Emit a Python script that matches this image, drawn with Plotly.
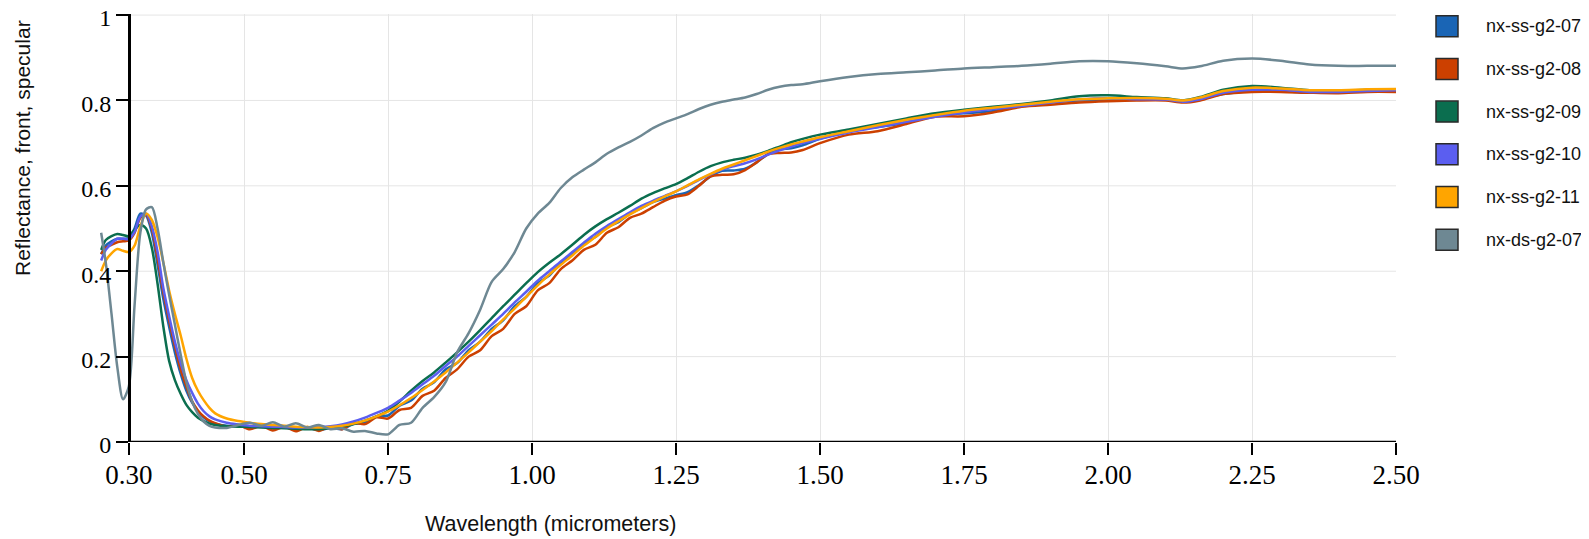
import plotly.graph_objects as go

WAVELENGTH = [0.252, 0.26, 0.27, 0.28, 0.29, 0.30, 0.31, 0.32, 0.33, 0.34, 0.35, 0.36, 0.37, 0.38, 0.39, 0.40,
              0.41, 0.42, 0.43, 0.44, 0.45, 0.47, 0.49, 0.51, 0.53, 0.55, 0.57, 0.59, 0.61, 0.63, 0.65, 0.67,
              0.69, 0.71, 0.73, 0.75, 0.77, 0.79, 0.81, 0.83, 0.85, 0.87, 0.89, 0.91, 0.93, 0.95, 0.97, 0.99,
              1.01, 1.03, 1.05, 1.07, 1.09, 1.11, 1.13, 1.15, 1.17, 1.19, 1.21, 1.23, 1.25, 1.27, 1.29, 1.31,
              1.33, 1.35, 1.37, 1.39, 1.41, 1.43, 1.45, 1.47, 1.50, 1.55, 1.60, 1.65, 1.70, 1.75, 1.80, 1.85,
              1.90, 1.95, 2.00, 2.05, 2.10, 2.13, 2.16, 2.20, 2.25, 2.30, 2.35, 2.40, 2.45, 2.50]

NX_SS_G2_07 = [0.44, 0.46, 0.47, 0.476, 0.476, 0.478, 0.50, 0.535, 0.53, 0.49, 0.415, 0.335, 0.27, 0.21, 0.16, 0.12,
               0.092, 0.072, 0.058, 0.048, 0.043, 0.038, 0.037, 0.034, 0.038, 0.032, 0.035, 0.029, 0.033, 0.028, 0.033, 0.03,
               0.042, 0.045, 0.06, 0.062, 0.085, 0.097, 0.125, 0.14, 0.17, 0.185, 0.215, 0.235, 0.265, 0.285, 0.318, 0.34,
               0.372, 0.39, 0.42, 0.44, 0.465, 0.48, 0.503, 0.515, 0.535, 0.548, 0.562, 0.57, 0.578, 0.585, 0.602, 0.622,
               0.635, 0.636, 0.64, 0.655, 0.675, 0.685, 0.688, 0.695, 0.71, 0.728, 0.738, 0.748, 0.765, 0.77, 0.775, 0.787,
               0.795, 0.80, 0.80, 0.803, 0.803, 0.797, 0.803, 0.815, 0.822, 0.822, 0.818, 0.819, 0.821, 0.822]

NX_SS_G2_08 = [0.44, 0.455, 0.462, 0.468, 0.47, 0.472, 0.49, 0.525, 0.532, 0.50, 0.43, 0.35, 0.285, 0.225, 0.17, 0.13,
               0.095, 0.074, 0.06, 0.05, 0.044, 0.036, 0.04, 0.03, 0.038, 0.027, 0.036, 0.025, 0.035, 0.026, 0.036, 0.03,
               0.045, 0.042, 0.058, 0.055, 0.075, 0.08, 0.108, 0.12, 0.15, 0.17, 0.20, 0.215, 0.248, 0.265, 0.30, 0.318,
               0.355, 0.372, 0.405, 0.425, 0.45, 0.462, 0.49, 0.503, 0.525, 0.535, 0.55, 0.565, 0.575, 0.58, 0.60, 0.622,
               0.626, 0.627, 0.637, 0.655, 0.674, 0.677, 0.678, 0.684, 0.70, 0.72, 0.728, 0.745, 0.762, 0.763, 0.772, 0.785,
               0.79, 0.795, 0.798, 0.80, 0.80, 0.795, 0.80, 0.815, 0.82, 0.82, 0.818, 0.817, 0.82, 0.82]

NX_SS_G2_09 = [0.45, 0.473, 0.482, 0.487, 0.485, 0.482, 0.497, 0.508, 0.50, 0.455, 0.37, 0.27, 0.19, 0.145, 0.113, 0.087,
               0.07, 0.057, 0.049, 0.043, 0.04, 0.037, 0.036, 0.035, 0.034, 0.033, 0.032, 0.031, 0.03, 0.03, 0.032, 0.036,
               0.042, 0.05, 0.06, 0.073, 0.095, 0.12, 0.143, 0.163, 0.186, 0.21, 0.235, 0.262, 0.29, 0.318, 0.345, 0.372,
               0.398, 0.42, 0.44, 0.462, 0.485, 0.505, 0.522, 0.537, 0.553, 0.57, 0.583, 0.594, 0.604, 0.618, 0.633, 0.646,
               0.655, 0.661, 0.666, 0.673, 0.682, 0.692, 0.702, 0.71, 0.72, 0.732, 0.745, 0.758, 0.77, 0.778, 0.785, 0.792,
               0.80, 0.81, 0.812, 0.808, 0.805, 0.80, 0.808, 0.825, 0.834, 0.83, 0.824, 0.823, 0.825, 0.826]

NX_SS_G2_10 = [0.425, 0.45, 0.465, 0.476, 0.476, 0.475, 0.492, 0.528, 0.535, 0.505, 0.445, 0.36, 0.295, 0.235, 0.185, 0.145,
               0.115, 0.09, 0.072, 0.06, 0.053, 0.045, 0.041, 0.038, 0.037, 0.036, 0.035, 0.034, 0.034, 0.035, 0.037, 0.041,
               0.048, 0.057, 0.068, 0.08, 0.097, 0.115, 0.135, 0.155, 0.178, 0.20, 0.225, 0.25, 0.275, 0.30, 0.327, 0.352,
               0.378, 0.40, 0.423, 0.445, 0.467, 0.488, 0.506, 0.522, 0.538, 0.553, 0.565, 0.576, 0.587, 0.60, 0.614, 0.627,
               0.638, 0.646, 0.653, 0.662, 0.673, 0.683, 0.692, 0.70, 0.71, 0.725, 0.737, 0.75, 0.762, 0.772, 0.78, 0.787,
               0.795, 0.802, 0.805, 0.803, 0.802, 0.797, 0.803, 0.818, 0.825, 0.825, 0.82, 0.82, 0.822, 0.824]

NX_SS_G2_11 = [0.40, 0.425, 0.442, 0.452, 0.448, 0.445, 0.46, 0.505, 0.535, 0.52, 0.48, 0.42, 0.355, 0.30, 0.25, 0.195,
               0.15, 0.12, 0.098, 0.08, 0.067, 0.055, 0.049, 0.045, 0.042, 0.04, 0.038, 0.036, 0.035, 0.034, 0.035, 0.038,
               0.043, 0.05, 0.06, 0.071, 0.086, 0.103, 0.122, 0.142, 0.163, 0.186, 0.21, 0.235, 0.26, 0.287, 0.313, 0.34,
               0.367, 0.392, 0.415, 0.437, 0.46, 0.48, 0.50, 0.517, 0.533, 0.548, 0.562, 0.575, 0.587, 0.601, 0.615, 0.628,
               0.64, 0.65, 0.66, 0.67, 0.68, 0.689, 0.697, 0.704, 0.714, 0.728, 0.742, 0.755, 0.766, 0.776, 0.783, 0.79,
               0.797, 0.803, 0.805, 0.806, 0.804, 0.80, 0.807, 0.822, 0.83, 0.828, 0.824, 0.824, 0.826, 0.827]

NX_DS_G2_07 = [0.49, 0.42, 0.30, 0.176, 0.10, 0.13, 0.32, 0.49, 0.545, 0.55, 0.50, 0.42, 0.345, 0.275, 0.205, 0.14,
               0.095, 0.066, 0.048, 0.038, 0.034, 0.033, 0.04, 0.045, 0.038, 0.046, 0.036, 0.044, 0.034, 0.04, 0.03, 0.032,
               0.024, 0.026, 0.02, 0.018, 0.04, 0.045, 0.08, 0.105, 0.14, 0.21, 0.255, 0.31, 0.375, 0.405, 0.445, 0.50,
               0.535, 0.56, 0.595, 0.62, 0.638, 0.655, 0.675, 0.69, 0.703, 0.718, 0.735, 0.748, 0.758, 0.768, 0.78, 0.79,
               0.797, 0.802, 0.807, 0.815, 0.825, 0.832, 0.836, 0.838, 0.845, 0.855, 0.862, 0.866, 0.87, 0.875, 0.878, 0.881,
               0.886, 0.892, 0.892, 0.887, 0.88, 0.875, 0.88, 0.893, 0.898, 0.893, 0.884, 0.881, 0.881, 0.881]

SERIES_NAMES = ["nx-ss-g2-07", "nx-ss-g2-08", "nx-ss-g2-09", "nx-ss-g2-10", "nx-ss-g2-11", "nx-ds-g2-07"]
SERIES_VALUES = [NX_SS_G2_07, NX_SS_G2_08, NX_SS_G2_09, NX_SS_G2_10, NX_SS_G2_11, NX_DS_G2_07]
SERIES_COLORS = ["#1a65b5", "#cc4000", "#0b6e4f", "#5b5ef0", "#ffa500", "#6e8893"]

X_TICKS = [0.30, 0.50, 0.75, 1.00, 1.25, 1.50, 1.75, 2.00, 2.25, 2.50]
X_TICK_TEXT = ["0.30", "0.50", "0.75", "1.00", "1.25", "1.50", "1.75", "2.00", "2.25", "2.50"]
Y_TICKS = [0, 0.2, 0.4, 0.6, 0.8, 1.0]
Y_TICK_TEXT = ["0", "0.2", "0.4", "0.6", "0.8", "1"]

X_MIN, X_MAX = 0.25, 2.5
Y_MIN, Y_MAX = 0.0, 1.0025
AXIS_X = 0.3

# The page body keeps the browser's default 8px margin, so the figure is
# sized and laid out in screen pixels minus that offset.
PAGE_OFFSET = 8
W, H = 1589 - PAGE_OFFSET, 539 - PAGE_OFFSET
ML, MT = 100 - PAGE_OFFSET, 14 - PAGE_OFFSET
PW, PH = 1296, 428
MR, MB = W - ML - PW, H - MT - PH

fig = go.Figure()
for name, vals, col in zip(SERIES_NAMES, SERIES_VALUES, SERIES_COLORS):
    fig.add_trace(go.Scatter(x=WAVELENGTH, y=vals, name=name, mode="lines",
                             line=dict(color=col, width=2.5, shape="spline", smoothing=0.8),
                             showlegend=False))

shapes = []
for yv in Y_TICKS[1:]:
    shapes.append(dict(type="line", xref="x", yref="y", x0=AXIS_X, x1=X_MAX, y0=yv, y1=yv,
                       line=dict(color="#e5e5e5", width=1), layer="below"))
shapes.append(dict(type="line", xref="x", yref="y", x0=AXIS_X, x1=X_MAX, y0=0, y1=0,
                   line=dict(color="black", width=2.5), layer="above"))

annotations = []


def py_to_paper(py):
    # py: screen pixel row
    return (MT + PH - (py - PAGE_OFFSET)) / PH


def px_to_paper(px):
    # px: screen pixel column
    return ((px - PAGE_OFFSET) - ML) / PW


for i, (name, col) in enumerate(zip(SERIES_NAMES, SERIES_COLORS)):
    cy = 26.2 + 42.7 * i
    shapes.append(dict(type="rect", xref="paper", yref="paper",
                       x0=px_to_paper(1436), x1=px_to_paper(1458),
                       y0=py_to_paper(cy + 10.5), y1=py_to_paper(cy - 10.5),
                       fillcolor=col, line=dict(color="#2a2a2a", width=1.5)))
    annotations.append(dict(xref="paper", yref="paper", x=px_to_paper(1484), y=py_to_paper(cy),
                            xanchor="left", yanchor="middle", text=name, showarrow=False,
                            font=dict(family="Liberation Sans, Arial", size=18, color="#111")))

annotations.append(dict(xref="paper", yref="paper", x=px_to_paper(550), y=py_to_paper(524),
                        xanchor="center", yanchor="middle", text="Wavelength (micrometers)", showarrow=False,
                        font=dict(family="Liberation Sans, Arial", size=21.5, color="#111")))
annotations.append(dict(xref="paper", yref="paper", x=px_to_paper(22), y=py_to_paper(148),
                        xanchor="center", yanchor="middle", text="Reflectance, front, specular", showarrow=False,
                        textangle=-90,
                        font=dict(family="Liberation Sans, Arial", size=21, color="#111")))

fig.update_layout(
    template="none",
    width=W, height=H,
    margin=dict(l=ML, r=MR, t=MT, b=MB, autoexpand=False),
    paper_bgcolor="white", plot_bgcolor="white",
    showlegend=False,
    shapes=shapes, annotations=annotations,
    xaxis=dict(range=[X_MIN, X_MAX], tickvals=X_TICKS, ticktext=X_TICK_TEXT, automargin=False,
               ticks="outside", ticklen=12, tickwidth=2, tickcolor="black",
               showline=False, zeroline=False, showgrid=True, gridcolor="#e5e5e5", gridwidth=1,
               ticklabeloverflow="allow", ticklabelstandoff=-3,
               tickfont=dict(family="Liberation Serif, Times New Roman", size=27, color="black")),
    yaxis=dict(range=[Y_MIN, Y_MAX], tickvals=Y_TICKS, ticktext=Y_TICK_TEXT, automargin=False,
               anchor="free", position=(AXIS_X - X_MIN) / (X_MAX - X_MIN),
               ticks="outside", ticklen=12, tickwidth=2, tickcolor="black",
               showline=True, linecolor="black", linewidth=2.5,
               zeroline=False, showgrid=False, ticklabeloverflow="allow", ticklabelshift=3,
               tickfont=dict(family="Liberation Serif, Times New Roman", size=24, color="black")),
)

fig.write_html("out.html")
